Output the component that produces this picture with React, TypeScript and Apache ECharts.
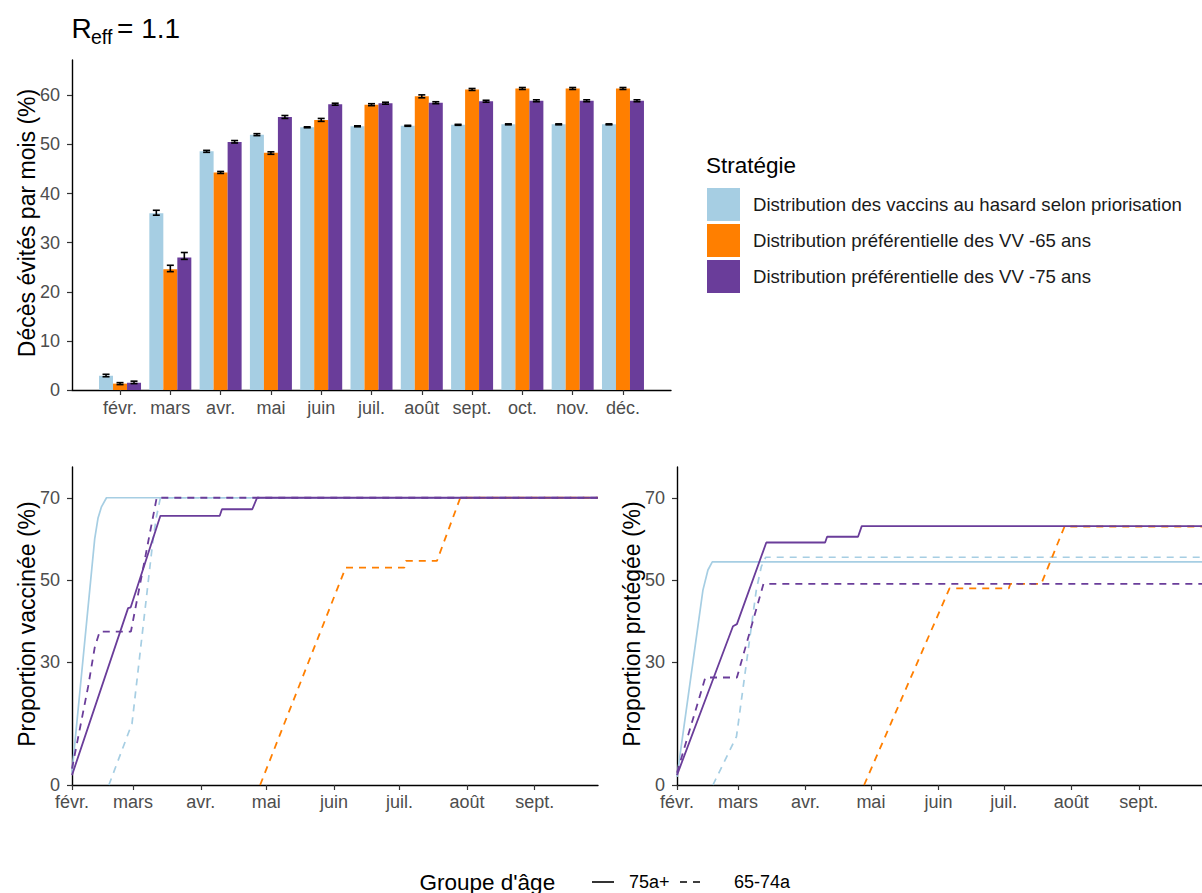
import React, { useEffect, useRef } from "react";
import * as echarts from "echarts";

// ---------- Data ----------
const months = ["févr.", "mars", "avr.", "mai", "juin", "juil.", "août", "sept.", "oct.", "nov.", "déc."];
const strategies = [
  "Distribution des vaccins au hasard selon priorisation",
  "Distribution préférentielle des VV -65 ans",
  "Distribution préférentielle des VV -75 ans",
];

// Décès évités par mois (%)
const hasard = [2.9, 36.0, 48.6, 52.0, 53.5, 53.7, 53.8, 54.0, 54.1, 54.1, 54.1];
const vv65 = [1.3, 24.6, 44.3, 48.3, 55.0, 58.1, 59.8, 61.2, 61.4, 61.4, 61.4];
const vv75 = [1.5, 27.0, 50.5, 55.6, 58.2, 58.4, 58.5, 58.8, 58.9, 58.9, 58.9];

const hasardLo = [2.7, 35.6, 48.4, 51.8, 53.4, 53.6, 53.7, 53.9, 54.0, 54.0, 54.0];
const hasardHi = [3.2, 36.6, 48.8, 52.2, 53.6, 53.8, 53.9, 54.1, 54.2, 54.2, 54.2];
const vv65Lo = [1.1, 24.1, 44.1, 48.0, 54.7, 57.9, 59.5, 61.0, 61.2, 61.2, 61.2];
const vv65Hi = [1.5, 25.4, 44.5, 48.5, 55.3, 58.3, 60.1, 61.4, 61.6, 61.6, 61.6];
const vv75Lo = [1.3, 26.6, 50.3, 55.3, 58.0, 58.2, 58.3, 58.6, 58.7, 58.7, 58.7];
const vv75Hi = [1.8, 28.0, 50.8, 55.9, 58.4, 58.6, 58.7, 59.0, 59.1, 59.1, 59.1];

const barTicks = [0, 10, 20, 30, 40, 50, 60];

// Day axis: days since 1 February
const dayTicks = [0, 28, 59, 89, 120, 150, 181, 212];
const dayTickLabels = ["févr.", "mars", "avr.", "mai", "juin", "juil.", "août", "sept."];
const propTicks = [0, 30, 50, 70];

// Proportion vaccinée (%)
const vacHasard75 = [[0, 3], [10.4, 60], [11.9, 65], [13.5, 67.8], [15.8, 70], [241, 70]];
const vacHasard6574 = [[16.9, 0], [27.5, 15], [37.1, 59.7], [38.7, 65.4], [40.5, 70], [241, 70]];
const vacVV65_6574 = [[86.2, 0], [125.4, 53], [152.3, 53], [153, 54.6], [167.2, 54.6], [177.9, 70], [241, 70]];
const vacVV75_6574 = [[0, 4], [7.4, 24], [10.4, 33.5], [12.7, 37.4], [27, 37.4], [38.8, 70], [241, 70]];
const vacVV75_75 = [[0, 2.4], [25.7, 43.1], [26.9, 43.3], [40.5, 65.6], [67.7, 65.6], [68.7, 67.2], [82.6, 67.2], [84.8, 70], [241, 70]];

// Proportion protégée (%)
const proHasard75 = [[0, 2], [11.9, 47.5], [14.2, 52.4], [16.2, 54.4], [241, 54.4]];
const proHasard6574 = [[16.5, 0], [27.3, 11.8], [36.4, 47.5], [38.7, 53.2], [40.7, 55.5], [241, 55.5]];
const proVV65_6574 = [[85.9, 0], [125.1, 47.9], [152.3, 47.9], [153, 49], [167.2, 49], [177.9, 63], [241, 63]];
const proVV75_6574 = [[0, 3], [13, 26.2], [27.5, 26.2], [39.7, 49], [241, 49]];
const proVV75_75 = [[0, 2.4], [25.7, 38.7], [27.5, 39.2], [41, 59.1], [68, 59.1], [68.9, 60.5], [83.1, 60.5], [84.8, 63.1], [241, 63.1]];

// ---------- Styles ----------
const FONT = "'Liberation Sans', Arial, sans-serif";
const C_BLUE = "#a6cee3";
const C_ORANGE = "#ff7f00";
const C_PURPLE = "#6a3d9a";
const TICK_COLOR = "#4d4d4d";
const DASH = [7, 6];

function axisCommon() {
  return {
    axisLine: { show: true, onZero: false, lineStyle: { color: "#000", width: 1.4 } },
    splitLine: { show: false },
  };
}

function tickStyle(values: number[]) {
  return { show: true, length: 5, customValues: values, lineStyle: { color: "#333", width: 1.2 } };
}

function errorSeries(name: string, lo: number[], hi: number[], offset: number) {
  return {
    type: "custom",
    name,
    xAxisIndex: 0,
    yAxisIndex: 0,
    z: 5,
    data: lo.map((l, i) => [i, l, hi[i]]),
    encode: { x: 0, y: [1, 2] },
    renderItem: (_params: any, api: any) => {
      const x = api.value(0);
      const pLo = api.coord([x, api.value(1)]);
      const pHi = api.coord([x, api.value(2)]);
      const cx = pLo[0] + offset;
      const w = 3.5;
      const st = { stroke: "#000", lineWidth: 1.6 };
      return {
        type: "group",
        children: [
          { type: "line", shape: { x1: cx, y1: pHi[1], x2: cx, y2: pLo[1] }, style: st },
          { type: "line", shape: { x1: cx - w, y1: pHi[1], x2: cx + w, y2: pHi[1] }, style: st },
          { type: "line", shape: { x1: cx - w, y1: pLo[1], x2: cx + w, y2: pLo[1] }, style: st },
        ],
      };
    },
  };
}

function lineSeries(name: string, data: number[][], idx: number, color: string, width: number, dashed: boolean) {
  return {
    type: "line",
    name,
    xAxisIndex: idx,
    yAxisIndex: idx,
    data,
    showSymbol: false,
    symbol: "none",
    clip: true,
    lineStyle: { color, width, type: dashed ? DASH : "solid", cap: "butt" },
    z: 3,
  };
}

function dayAxis(gridIndex: number) {
  return {
    type: "value",
    gridIndex,
    min: 0,
    max: 241,
    ...axisCommon(),
    axisTick: tickStyle(dayTicks),
    axisLabel: {
      customValues: dayTicks,
      margin: 8,
      color: TICK_COLOR,
      fontSize: 18,
      fontFamily: FONT,
      formatter: (v: number) => dayTickLabels[dayTicks.indexOf(Math.round(v))] ?? "",
    },
  };
}

function propAxis(gridIndex: number) {
  return {
    type: "value",
    gridIndex,
    min: 0,
    max: 77.5,
    ...axisCommon(),
    axisTick: tickStyle(propTicks),
    axisLabel: {
      customValues: propTicks,
      margin: 12,
      color: TICK_COLOR,
      fontSize: 18,
      fontFamily: FONT,
    },
  };
}

export default function App() {
  const ref = useRef<HTMLDivElement>(null);

  useEffect(() => {
    if (!ref.current) return;
    const chart = echarts.init(ref.current, null, { renderer: "svg" });

    const barIdx = months.map((_, i) => i);

    const option: any = {
      animation: false,
      backgroundColor: "#ffffff",
      textStyle: { fontFamily: FONT },
      grid: [
        { left: 72, top: 60, width: 599, height: 330 },
        { left: 72, top: 467, width: 526, height: 318 },
        { left: 677, top: 467, width: 526, height: 318 },
      ],
      xAxis: [
        {
          type: "value",
          gridIndex: 0,
          min: -0.955,
          max: 10.955,
          ...axisCommon(),
          axisTick: tickStyle(barIdx),
          axisLabel: {
            customValues: barIdx,
            margin: 9,
            color: TICK_COLOR,
            fontSize: 18,
            fontFamily: FONT,
            formatter: (v: number) => months[Math.round(v)] ?? "",
          },
        },
        dayAxis(1),
        dayAxis(2),
      ],
      yAxis: [
        {
          type: "value",
          gridIndex: 0,
          min: 0,
          max: 67.2,
          ...axisCommon(),
          axisTick: tickStyle(barTicks),
          axisLabel: { customValues: barTicks, margin: 12, color: TICK_COLOR, fontSize: 18, fontFamily: FONT },
        },
        propAxis(1),
        propAxis(2),
      ],
      legend: {
        data: strategies,
        orient: "vertical",
        left: 707,
        top: 188,
        icon: "rect",
        itemWidth: 33,
        itemHeight: 33,
        itemGap: 3,
        padding: 0,
        selectedMode: false,
        textStyle: { fontSize: 18.6, color: "#1a1a1a", fontFamily: FONT, padding: [0, 0, 0, 8] },
      },
      series: [
        {
          type: "bar",
          name: strategies[0],
          xAxisIndex: 0,
          yAxisIndex: 0,
          data: hasard.map((v, i) => [i, v]),
          barWidth: 14,
          barGap: "0%",
          itemStyle: { color: C_BLUE },
        },
        {
          type: "bar",
          name: strategies[1],
          xAxisIndex: 0,
          yAxisIndex: 0,
          data: vv65.map((v, i) => [i, v]),
          barWidth: 14,
          barGap: "0%",
          itemStyle: { color: C_ORANGE },
        },
        {
          type: "bar",
          name: strategies[2],
          xAxisIndex: 0,
          yAxisIndex: 0,
          data: vv75.map((v, i) => [i, v]),
          barWidth: 14,
          barGap: "0%",
          itemStyle: { color: C_PURPLE },
        },
        errorSeries("err-hasard", hasardLo, hasardHi, -14),
        errorSeries("err-vv65", vv65Lo, vv65Hi, 0),
        errorSeries("err-vv75", vv75Lo, vv75Hi, 14),

        lineSeries("vac-h75", vacHasard75, 1, C_BLUE, 1.7, false),
        lineSeries("vac-h6574", vacHasard6574, 1, C_BLUE, 1.7, true),
        lineSeries("vac-v65-6574", vacVV65_6574, 1, C_ORANGE, 1.8, true),
        lineSeries("vac-v75-6574", vacVV75_6574, 1, C_PURPLE, 1.8, true),
        lineSeries("vac-v75-75", vacVV75_75, 1, C_PURPLE, 1.8, false),

        lineSeries("pro-h75", proHasard75, 2, C_BLUE, 1.7, false),
        lineSeries("pro-h6574", proHasard6574, 2, C_BLUE, 1.7, true),
        lineSeries("pro-v65-6574", proVV65_6574, 2, C_ORANGE, 1.8, true),
        lineSeries("pro-v75-6574", proVV75_6574, 2, C_PURPLE, 1.8, true),
        lineSeries("pro-v75-75", proVV75_75, 2, C_PURPLE, 1.8, false),
      ],
      graphic: [
        // Title R_eff = 1.1
        { type: "text", x: 71.5, y: 28, style: { text: "R", fontSize: 28, fontFamily: FONT, fill: "#000", align: "left", verticalAlign: "middle" } },
        { type: "text", x: 91, y: 37, style: { text: "eff", fontSize: 19.5, fontFamily: FONT, fill: "#000", align: "left", verticalAlign: "middle" } },
        { type: "text", x: 117, y: 28, style: { text: "= 1.1", fontSize: 28, fontFamily: FONT, fill: "#000", align: "left", verticalAlign: "middle" } },
        // Y axis titles
        { type: "text", x: 27, y: 223, rotation: Math.PI / 2, style: { text: "Décès évités par mois (%)", fontSize: 23, fontFamily: FONT, fill: "#000", align: "center", verticalAlign: "middle" } },
        { type: "text", x: 27, y: 624, rotation: Math.PI / 2, style: { text: "Proportion vaccinée (%)", fontSize: 23, fontFamily: FONT, fill: "#000", align: "center", verticalAlign: "middle" } },
        { type: "text", x: 632, y: 624, rotation: Math.PI / 2, style: { text: "Proportion protégée (%)", fontSize: 23, fontFamily: FONT, fill: "#000", align: "center", verticalAlign: "middle" } },
        // Legend title
        { type: "text", x: 706, y: 165, style: { text: "Stratégie", fontSize: 22.5, fontFamily: FONT, fill: "#000", align: "left", verticalAlign: "middle" } },
        // Bottom linetype legend
        { type: "text", x: 419.5, y: 882, style: { text: "Groupe d'âge", fontSize: 22.5, fontFamily: FONT, fill: "#000", align: "left", verticalAlign: "middle" } },
        { type: "line", shape: { x1: 592, y1: 882, x2: 614, y2: 882 }, style: { stroke: "#000", lineWidth: 1.6 } },
        { type: "text", x: 629, y: 882, style: { text: "75a+", fontSize: 18, fontFamily: FONT, fill: "#000", align: "left", verticalAlign: "middle" } },
        { type: "line", shape: { x1: 680, y1: 882, x2: 700, y2: 882 }, style: { stroke: "#000", lineWidth: 1.6, lineDash: [7, 6] } },
        { type: "text", x: 734, y: 882, style: { text: "65-74a", fontSize: 18, fontFamily: FONT, fill: "#000", align: "left", verticalAlign: "middle" } },
      ],
    };

    chart.setOption(option);
    return () => chart.dispose();
  }, []);

  return (
    <div
      ref={ref}
      style={{ position: "fixed", left: 0, top: 0, width: 1202, height: 893, background: "#fff" }}
    />
  );
}
